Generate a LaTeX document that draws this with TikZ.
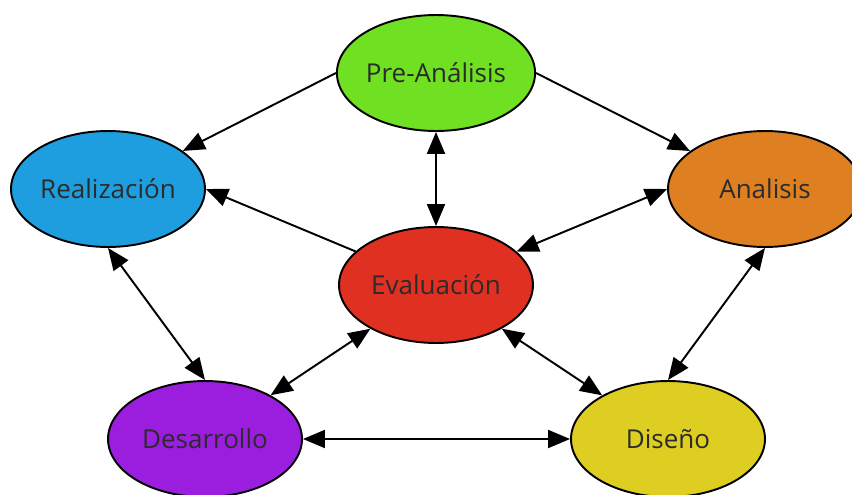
\documentclass[tikz,border=0pt]{standalone}
\usepackage{fontspec}
\setmainfont{Open Sans}
\usepackage{tikz}
\usetikzlibrary{arrows.meta, shapes.geometric, positioning}
\definecolor{pregreen}{HTML}{6FE022}
\definecolor{realblue}{HTML}{1E9EDE}
\definecolor{anaorange}{HTML}{DE8022}
\definecolor{evalred}{HTML}{E03022}
\definecolor{desviolet}{HTML}{9B1EDE}
\definecolor{disyellow}{HTML}{DECE22}
\definecolor{labelgray}{HTML}{2B2B2B}
\tikzset{
  phase/.style={ellipse, draw=black, line width=1.1pt, minimum width=3.88cm,
                minimum height=2.32cm, inner sep=0pt, text=labelgray,
                font=\fontsize{14.8}{17}\selectfont},
  link/.style={line width=1.1pt, ->},
  both/.style={line width=1.1pt, <->}
}
\begin{document}
\begin{tikzpicture}[x=0.02cm, y=-0.02cm, >={Triangle[length=0.44cm, width=0.36cm]}]
\useasboundingbox (0,0) rectangle (852,494);
%
\node[phase, fill=pregreen]   (pre)  at (436,73)  {Pre-Análisis};
\node[phase, fill=realblue]   (real) at (108,189) {Realización};
\node[phase, fill=anaorange]  (ana)  at (765,189) {Analisis};
\node[phase, fill=evalred]    (eval) at (436,285) {Evaluación};
\node[phase, fill=desviolet]  (des)  at (205,439) {Desarrollo};
\node[phase, fill=disyellow]  (dis)  at (668,439) {Diseño};

\draw[link] (pre.west) -- (real);
\draw[link] (pre.east) -- (ana);
\draw[both] (pre) -- (eval);
\draw[link] (eval) -- (real.east);
\draw[both] (eval) -- (ana.west);
\draw[both] (real.south) -- (des.north);
\draw[both] (ana.south) -- (dis.north);
\draw[both] (eval) -- (des);
\draw[both] (eval) -- (dis);
\draw[both] (des) -- (dis);
%
\end{tikzpicture}
\end{document}
